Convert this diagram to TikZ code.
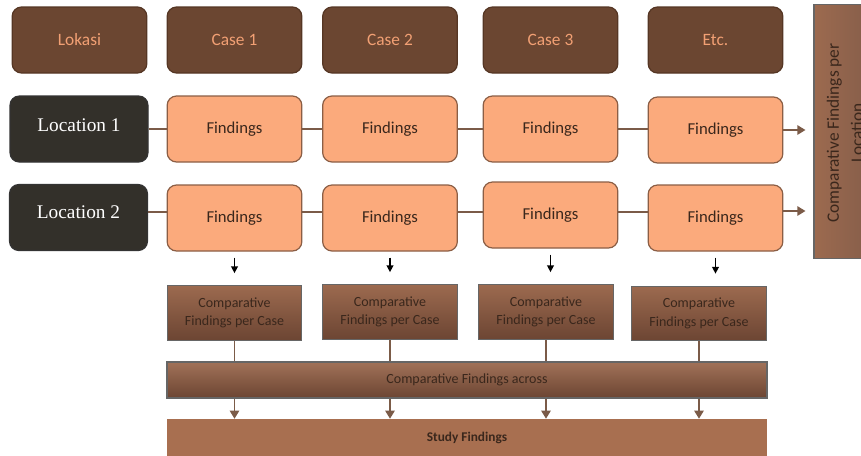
\documentclass[tikz,border=0pt]{standalone}
\usepackage{fontspec}
\setmainfont{Carlito}
\newfontfamily\locfont{Liberation Serif}
\usepackage{tikz}
\usetikzlibrary{positioning}
\usetikzlibrary{arrows.meta}

\definecolor{casebrown}{HTML}{6B4631}
\definecolor{caseedge}{HTML}{553624}
\definecolor{casetext}{HTML}{F2A074}
\definecolor{locdark}{HTML}{33302A}
\definecolor{findfill}{HTML}{FBAA7C}
\definecolor{findedge}{HTML}{8B5E45}
\definecolor{darktext}{HTML}{3A271C}
\definecolor{linkbrown}{HTML}{7B5B48}
\definecolor{pctop}{HTML}{9C6A4F}
\definecolor{pcbot}{HTML}{6C4533}
\definecolor{studyfill}{HTML}{A86F50}

\begin{document}
\begin{tikzpicture}[x=0.75pt, y=-0.75pt,
    casebox/.style={rectangle, rounded corners=7pt, draw=caseedge, line width=0.9pt, fill=casebrown,
        text=casetext, minimum width=101pt, minimum height=49.5pt, font=\fontsize{13}{15}\selectfont},
    locbox/.style={rectangle, rounded corners=7pt, draw=black!80, line width=0.9pt, fill=locdark,
        text=white, minimum width=103.5pt, minimum height=49.5pt, font=\locfont\fontsize{14.5}{17}\selectfont},
    findbox/.style={rectangle, rounded corners=7pt, draw=findedge, line width=0.9pt, fill=findfill,
        text=darktext, minimum width=101pt, minimum height=49.5pt, font=\fontsize{12.5}{15}\selectfont},
    pcbox/.style={rectangle, draw=black!60, line width=0.8pt, top color=pctop, bottom color=pcbot,
        text=darktext, minimum width=101pt, minimum height=41pt, align=center,
        font=\fontsize{10.5}{14}\selectfont},
    link/.style={linkbrown, line width=1pt},
    down/.style={-{Triangle[length=5pt,width=5pt]}, line width=1pt, black},
    feed/.style={-{Triangle[length=6pt,width=7pt]}, linkbrown, line width=1pt}]
    \clip (0,0) rectangle (861,455);
    \useasboundingbox (0,0) rectangle (861,455);
    % header row
    \node[casebox] (lokasi) at (79.5, 40) {Lokasi};
    \node[casebox] (c1) at (234.5, 40) {Case 1};
    \node[casebox] (c2) at (390, 40) {Case 2};
    \node[casebox] (c3) at (550.5, 40) {Case 3};
    \node[casebox] (c4) at (715.5, 40) {Etc.};
    % locations and findings
    \node[locbox, text depth=6pt] (loc1) at (79, 129) {Location 1};
    \node[findbox] (f11) at (234.5, 129) {Findings};
    \node[findbox] (f12) at (390, 129) {Findings};
    \node[findbox] (f13) at (550.5, 129) {Findings};
    \node[findbox] (f14) at (715.5, 130) {Findings};
    \node[locbox, text depth=8pt] (loc2) at (78.5, 217.5) {Location 2};
    \node[findbox] (f21) at (234.5, 218) {Findings};
    \node[findbox] (f22) at (390, 218) {Findings};
    \node[findbox] (f23) at (550.5, 215) {Findings};
    \node[findbox] (f24) at (715.5, 218) {Findings};
    % per location
    \node[rectangle, draw=black!60, line width=0.8pt, left color=pctop, right color=pcbot!90,
        minimum width=64.5pt, minimum height=190pt] (side) at (857, 131.5) {};
    \node[rotate=90, align=center, text=darktext, font=\fontsize{13}{18}\selectfont]
        (sidetext) at (845, 133) {Comparative Findings per\\Location};
    % per case
    \node[pcbox] (pc1) at (234.5, 313) {Comparative\\Findings per Case};
    \node[pcbox] (pc2) at (390, 312) {Comparative\\Findings per Case};
    \node[pcbox] (pc3) at (546, 312) {Comparative\\Findings per Case};
    \node[pcbox] (pc4) at (699, 313.5) {Comparative\\Findings per Case};
    \node[rectangle, draw=black!60, line width=0.8pt, top color=pctop!95, bottom color=pcbot,
        minimum width=450pt, minimum height=27pt, text=darktext, font=\fontsize{10.5}{12}\selectfont]
        (across) at (467, 380) {Comparative Findings across};
    \node[rectangle, fill=studyfill, minimum width=450pt, minimum height=28.5pt, text=darktext,
        font=\bfseries\fontsize{10}{12}\selectfont] (study) at (467, 438) {Study Findings};
    % links
    \draw[link] (loc1.east) -- (loc1.east -| f11.west);
    \draw[link] (f11) -- (f12);
    \draw[link] (f12) -- (f13);
    \draw[link] (f13.east) -- (f13.east -| f14.west);
    \draw[link] (loc2.east |- 0,212) -- (f21.west |- 0,212);
    \draw[link] (f21.east |- 0,212) -- (f22.west |- 0,212);
    \draw[link] (f22.east |- 0,212) -- (f23.west |- 0,212);
    \draw[link] (f23.east |- 0,212) -- (f24.west |- 0,212);
    \draw[feed, shorten >=6pt] (f14.east) -- (f14.east -| side.west);
    \draw[feed, shorten >=6pt] (f24.east |- 0,211) -- (side.west |- 0,211);
    \foreach \i in {1,...,4}{
        \draw[down, shorten <=4.5pt, shorten >=9pt] (f2\i.south) -- (f2\i.south |- pc\i.north);
        \draw[link] (pc\i.south) -- (pc\i.south |- across.north);
        \draw[feed] (pc\i.south |- across.south) -- (pc\i.south |- study.north);
    }
\end{tikzpicture}
\end{document}
